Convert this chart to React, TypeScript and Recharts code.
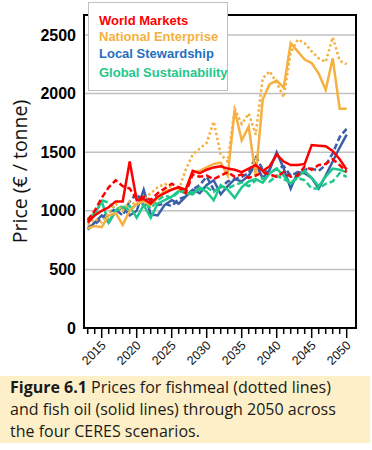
import React from "react";
import {
  CartesianGrid,
  Legend,
  Line,
  LineChart,
  ReferenceArea,
  XAxis,
  YAxis,
} from "recharts";

const YEARS = [
  2013, 2014, 2015, 2016, 2017, 2018, 2019, 2020, 2021, 2022,
  2023, 2024, 2025, 2026, 2027, 2028, 2029, 2030, 2031, 2032,
  2033, 2034, 2035, 2036, 2037, 2038, 2039, 2040, 2041, 2042,
  2043, 2044, 2045, 2046, 2047, 2048, 2049, 2050,
];

// fish oil = solid, fishmeal = dotted/dashed
const wmOil = [
  900, 960, 1000, 1030, 1080, 1080, 1420, 1090, 1100, 1060,
  1120, 1150, 1180, 1200, 1180, 1340, 1320, 1350, 1370, 1380,
  1360, 1350, 1330, 1360, 1390, 1340, 1380, 1480, 1420, 1390,
  1390, 1400, 1560, 1555, 1550, 1510, 1440, 1350,
];
const wmMeal = [
  920, 1000, 1110, 1200, 1260, 1210, 1190, 1100, 1120, 1090,
  1150, 1190, 1230, 1200, 1150, 1310, 1290, 1300, 1270, 1300,
  1330, 1290, 1310, 1280, 1300, 1330, 1310, 1290, 1330, 1290,
  1300, 1380, 1350, 1390, 1400, 1440, 1390, 1330,
];
const neOil = [
  850, 870, 860, 960, 980, 880, 1000, 1060, 1080, 1050,
  1110, 1170, 1180, 1200, 1180, 1330, 1340, 1370, 1400, 1410,
  1300, 1860, 1600, 1720, 1290, 1950, 2080, 2110, 2050, 2430,
  2360, 2290, 2260, 2170, 2030, 2300, 1870, 1870,
];
const neMeal = [
  880, 930, 900, 980, 1060, 1000, 1080, 1050, 1100, 1150,
  1200, 1230, 1200, 1180, 1350, 1480, 1530, 1580, 1760, 1480,
  1420, 1870, 1740, 1830, 1650, 2130, 2190, 2090, 1970, 2350,
  2460, 2430, 2360, 2300, 2270, 2480, 2280, 2250,
];
const lsOil = [
  840, 900, 960, 900, 1000, 1030, 960, 1000, 1180, 970,
  960, 1050, 1090, 1060, 1120, 1180, 1150, 1220, 1260, 1140,
  1210, 1270, 1250, 1300, 1400, 1280, 1350, 1500, 1360, 1190,
  1330, 1320, 1280, 1190, 1300, 1420, 1540, 1650,
];
const lsMeal = [
  860, 880, 940, 990, 1010, 960, 1080, 1150, 1040, 1080,
  1050, 1060, 1040, 1100, 1120, 1180, 1220, 1290, 1180, 1200,
  1250, 1270, 1290, 1320, 1470, 1350, 1320, 1360, 1380, 1300,
  1330, 1350, 1360, 1340, 1390, 1490, 1630, 1700,
];
const gsOil = [
  930, 980, 1080, 900, 1000, 1030, 1040, 940, 1050, 940,
  1060, 1090, 1120, 1170, 1150, 1140, 1200, 1160, 1090, 1220,
  1180, 1110, 1200, 1250, 1270, 1240, 1320, 1360, 1300, 1230,
  1290, 1340, 1280, 1210, 1290, 1360, 1350, 1330,
];
const gsMeal = [
  900, 960, 1090, 1070, 1010, 1040, 1000, 1060, 1080, 1020,
  1090, 1130, 1110, 1160, 1180, 1150, 1180, 1200, 1160, 1210,
  1190, 1220, 1240, 1210, 1260, 1280, 1250, 1300, 1270, 1240,
  1280, 1260, 1190, 1190, 1230, 1250, 1320, 1290,
];

const Y_TICKS = [0, 500, 1000, 1500, 2000, 2500];
const SCENARIOS = [
  "World Markets",
  "National Enterprise",
  "Local Stewardship",
  "Global Sustainability",
];

const RED = "#ff0000";
const ORANGE = "#f5b040";
const BLUE = "#3b5ea8";
const BLUE_TEXT = "#1f70c1";
const GREEN = "#1ec88b";
const GRID = "#c0c0c0";
const X_MIN = 2012.47;
const X_MAX = 2051.33;
const Y_MAX = 2670;

const data = YEARS.map((year, i) => ({
  year,
  wmOil: wmOil[i],
  wmMeal: wmMeal[i],
  neOil: neOil[i],
  neMeal: neMeal[i],
  lsOil: lsOil[i],
  lsMeal: lsMeal[i],
  gsOil: gsOil[i],
  gsMeal: gsMeal[i],
}));

const LEGEND_COLORS = [RED, ORANGE, BLUE_TEXT, GREEN];
const LEGEND_TOPS = [10, 26, 43, 62];

function LegendBox() {
  return (
    <div
      style={{
        position: "relative",
        width: 140,
        height: 89,
        boxSizing: "border-box",
        border: `1px solid ${GRID}`,
        background: "#fff",
        fontFamily: "'Liberation Sans', Arial, sans-serif",
        fontWeight: 700,
        fontSize: 13,
      }}
    >
      {SCENARIOS.map((name, i) => (
        <div
          key={name}
          style={{
            position: "absolute",
            left: 10,
            top: LEGEND_TOPS[i],
            color: LEGEND_COLORS[i],
            whiteSpace: "nowrap",
            lineHeight: "16px",
          }}
        >
          {name}
        </div>
      ))}
    </div>
  );
}

function YearTick(props: any) {
  const { x, y, payload } = props;
  const major = payload.value % 5 === 0;
  return (
    <g>
      <line x1={x} x2={x} y1={y} y2={y + (major ? 10 : 6)} stroke="#000" strokeWidth={1.5} />
      {major && (
        <text
          x={x + 5}
          y={y + 18}
          transform={`rotate(-45 ${x + 5} ${y + 18})`}
          textAnchor="end"
          fontSize={12.5}
          fontFamily="'Liberation Sans', Arial, sans-serif"
          fill="#111"
        >
          {payload.value}
        </text>
      )}
    </g>
  );
}

function PriceLabel(props: any) {
  const vb = props.viewBox;
  const cx = vb.x + 27;
  const cy = vb.y + vb.height / 2;
  return (
    <text
      x={cx}
      y={cy}
      transform={`rotate(-90 ${cx} ${cy})`}
      textAnchor="middle"
      fontSize={19.5}
      fontFamily="'Open Sans', sans-serif"
      fill="#111"
    >
      Price (€ / tonne)
    </text>
  );
}

export default function App() {
  const line = (key: string, color: string, dash?: string) => (
    <Line
      key={key}
      type="linear"
      dataKey={key}
      stroke={color}
      strokeWidth={2.5}
      strokeDasharray={dash}
      dot={false}
      activeDot={false}
      isAnimationActive={false}
    />
  );

  return (
    <div style={{ position: "absolute", left: 0, top: 0, width: 372, height: 450, background: "#fff" }}>
      <LineChart
        width={372}
        height={372}
        data={data}
        margin={{ top: 15, right: 16, left: 0, bottom: 0 }}
      >
        <CartesianGrid vertical={false} stroke={GRID} strokeWidth={1.5} />
        <XAxis
          dataKey="year"
          type="number"
          domain={[X_MIN, X_MAX]}
          ticks={YEARS}
          interval={0}
          allowDataOverflow
          axisLine={false}
          tickLine={false}
          tickSize={0}
          tickMargin={0}
          height={44}
          tick={YearTick}
        />
        <YAxis
          domain={[0, Y_MAX]}
          ticks={Y_TICKS}
          allowDataOverflow
          width={84}
          axisLine={false}
          tickLine={false}
          tickSize={0}
          tickMargin={8}
          tick={{ fill: "#000", fontSize: 16, fontWeight: 700, fontFamily: "'Liberation Sans', Arial, sans-serif" }}
          label={{ content: PriceLabel }}
        />
        {line("lsMeal", BLUE, "6 3")}
        {line("lsOil", BLUE)}
        {line("gsMeal", GREEN, "6 3")}
        {line("gsOil", GREEN)}
        {line("neMeal", ORANGE, "2.5 2.5")}
        {line("neOil", ORANGE)}
        {line("wmMeal", RED, "6 3")}
        {line("wmOil", RED)}
        <ReferenceArea
          x1={X_MIN}
          x2={X_MAX}
          y1={0}
          y2={Y_MAX}
          fill="none"
          fillOpacity={0}
          stroke="#000"
          strokeWidth={2}
          ifOverflow="visible"
        />
        <Legend
          layout="vertical"
          align="center"
          verticalAlign="middle"
          wrapperStyle={{ left: 88, top: 2, width: 140, height: 89 }}
          content={() => <LegendBox />}
        />
      </LineChart>
      <div
        style={{
          position: "absolute",
          left: 0,
          top: 376,
          width: 370,
          height: 67,
          boxSizing: "border-box",
          padding: "0 0 0 10px",
          background: "#fdf0c8",
          fontFamily: "'Open Sans', sans-serif",
          fontSize: 16,
          lineHeight: "22px",
          color: "#1a1a1a",
          whiteSpace: "nowrap",
        }}
      >
        <b>Figure 6.1</b> Prices for fishmeal (dotted lines)
        <br />
        and fish oil (solid lines) through 2050 across
        <br />
        the four CERES scenarios.
      </div>
    </div>
  );
}
